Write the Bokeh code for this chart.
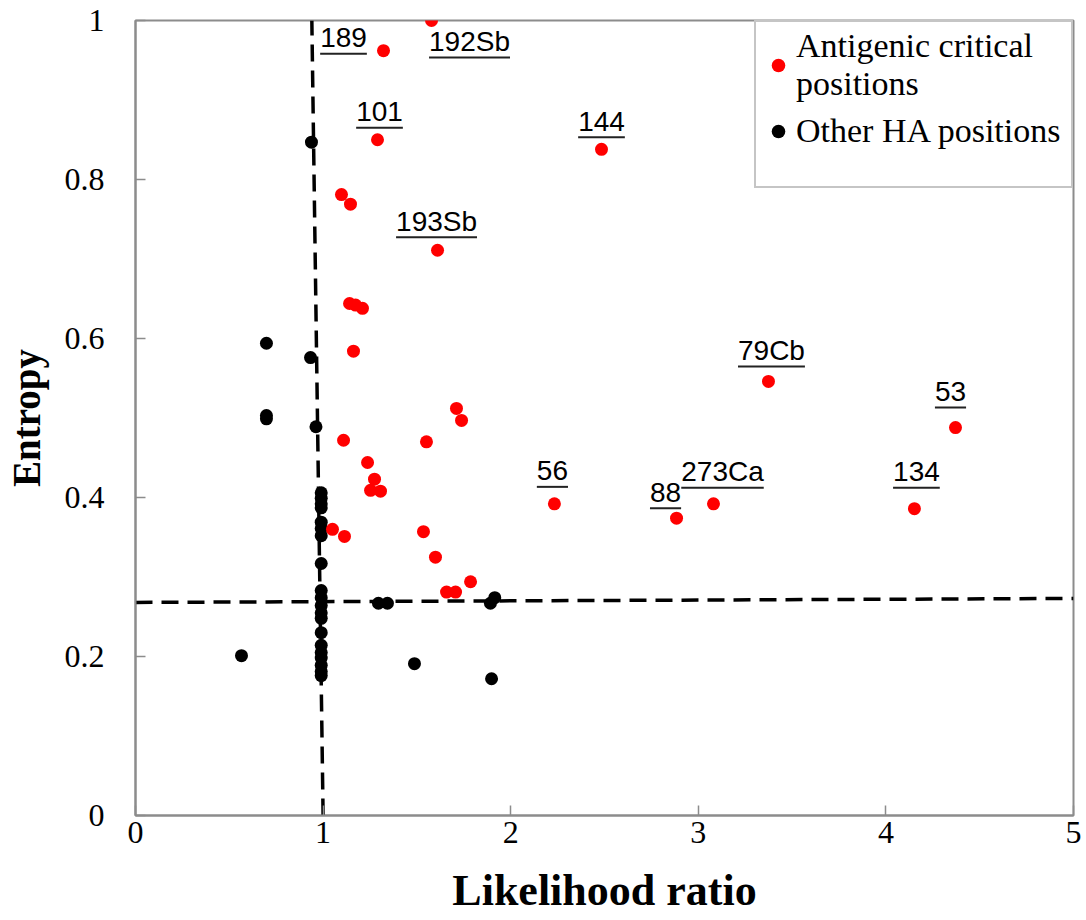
from bokeh.plotting import figure
from bokeh.models import Range1d, FixedTicker, Legend, LegendItem
from bokeh.core.properties import value
from bokeh.embed import file_html
from bokeh.resources import INLINE

# Antigenic critical positions: likelihood ratio vs entropy
crit_ratio = [1.578, 1.322, 1.290, 2.484, 1.098, 1.146, 1.610, 1.141, 1.173, 1.210,
              1.162, 3.374, 4.371, 1.711, 1.738, 1.109, 1.551, 1.237, 1.274, 1.253,
              1.306, 2.233, 3.081, 2.884, 4.152, 1.050, 1.114, 1.535, 1.599, 1.786,
              1.658, 1.706]
crit_entropy = [1.000, 0.962, 0.850, 0.838, 0.781, 0.769, 0.711, 0.644, 0.642, 0.638,
                0.584, 0.546, 0.488, 0.512, 0.497, 0.472, 0.470, 0.444, 0.423, 0.409,
                0.408, 0.392, 0.392, 0.374, 0.386, 0.360, 0.351, 0.357, 0.325, 0.294,
                0.281, 0.281]
crit_site = ["192Sb", "189", "101", "144", "", "", "193Sb", "", "", "",
             "", "79Cb", "53", "", "", "", "", "", "", "",
             "", "56", "273Ca", "88", "134", "", "", "", "", "",
             "", ""]

# Other HA positions
other_ratio = [0.938, 0.698, 0.933, 0.698, 0.698, 0.962,
               0.99, 0.99, 0.99, 0.99, 0.99, 0.99, 0.99, 0.99, 0.99, 0.99,
               0.99, 0.99, 0.99, 0.99, 0.99, 0.99, 0.99, 0.99, 0.99, 0.99,
               0.565, 1.295, 1.343, 1.487, 1.898, 1.892, 1.915]
other_entropy = [0.847, 0.594, 0.576, 0.503, 0.499, 0.489,
                 0.406, 0.399, 0.392, 0.387, 0.369, 0.361, 0.352, 0.317, 0.283, 0.274,
                 0.264, 0.255, 0.248, 0.230, 0.214, 0.205, 0.198, 0.189, 0.181, 0.176,
                 0.201, 0.267, 0.267, 0.191, 0.172, 0.267, 0.274]

# Threshold guides (end points)
ratio_guide_x = [1.0, 0.94]
ratio_guide_y = [0.0, 1.0]
entropy_guide_x = [0.0, 5.0]
entropy_guide_y = [0.268, 0.273]

x_ticks = [0, 1, 2, 3, 4, 5]
y_ticks = [0, 0.2, 0.4, 0.6, 0.8, 1]
y_tick_text = ["0", "0.2", "0.4", "0.6", "0.8", "1"]

FRAME_W, FRAME_H = 938, 795
X_MAX, Y_MAX = 5.0, 1.0
px_x = FRAME_W / X_MAX
px_y = FRAME_H / Y_MAX

GRAY = "#8c8c8c"
SERIF = "Liberation Serif"
SANS = "Liberation Sans"
LABEL_PX = 28

p = figure(frame_width=FRAME_W, frame_height=FRAME_H,
           min_border_left=135, min_border_right=13,
           min_border_top=20, min_border_bottom=105,
           x_range=Range1d(0, X_MAX), y_range=Range1d(0, Y_MAX),
           output_backend="svg", toolbar_location=None)

p.xgrid.visible = False
p.ygrid.visible = False
p.outline_line_color = GRAY
p.outline_line_width = 2

for ax in (p.xaxis[0], p.yaxis[0]):
    ax.axis_line_color = GRAY
    ax.axis_line_width = 2
    ax.major_tick_line_color = GRAY
    ax.major_tick_line_width = 1.5
    ax.major_tick_in = 10
    ax.major_tick_out = 0
    ax.minor_tick_line_color = None
    ax.major_label_text_font = SERIF
    ax.major_label_text_font_size = "32px"
    ax.major_label_text_color = "black"
    ax.axis_label_text_font = SERIF
    ax.axis_label_text_font_style = "bold"
    ax.axis_label_text_color = "black"

p.xaxis.ticker = FixedTicker(ticks=x_ticks)
p.yaxis.ticker = FixedTicker(ticks=y_ticks)
p.xaxis.major_label_overrides = {t: str(t) for t in x_ticks}
p.yaxis.major_label_overrides = dict(zip(y_ticks, y_tick_text))
p.xaxis.major_label_standoff = 6
p.yaxis.major_label_standoff = 31
p.xaxis.axis_label = "Likelihood ratio"
p.yaxis.axis_label = "Entropy"
p.xaxis.axis_label_text_font_size = "44px"
p.yaxis.axis_label_text_font_size = "39px"
p.xaxis.axis_label_standoff = 20
p.yaxis.axis_label_standoff = 14

# dashed threshold guides
p.line(ratio_guide_x, ratio_guide_y, line_color="black", line_width=3.5, line_dash="17 9")
p.line(entropy_guide_x, entropy_guide_y, line_color="black", line_width=3.5, line_dash="17 9")

other = p.scatter(other_ratio, other_entropy, size=13, fill_color="black",
                  line_color="black", line_width=0)
crit = p.scatter(crit_ratio, crit_entropy, size=13, fill_color="#ff0000",
                 line_color="#ff0000", line_width=0)

# site labels: offsets in screen pixels (dx right, dy baseline above point)
label_offsets = {
    "192Sb": (38, -32), "189": (-40, 2), "101": (2, 17), "144": (0, 17),
    "193Sb": (-1, 18), "79Cb": (3, 20), "53": (-5, 25), "56": (-2, 22),
    "273Ca": (9, 21), "88": (-11, 15), "134": (2, 26),
}
TEXT_LIFT = 11  # baseline correction for the SVG text anchor
char_em = {"S": 0.667, "b": 0.556, "C": 0.722, "a": 0.556}

tx, ty, tt, ux0, ux1, uy = [], [], [], [], [], []
for x, y, name in zip(crit_ratio, crit_entropy, crit_site):
    if not name:
        continue
    dx, dy = label_offsets[name]
    cx = x + dx / px_x
    by = y + dy / px_y
    tx.append(cx)
    ty.append(by + TEXT_LIFT / px_y)
    tt.append(name)
    w = sum(char_em.get(c, 0.556) for c in name) * LABEL_PX
    ux0.append(cx - w / 2 / px_x)
    ux1.append(cx + w / 2 / px_x)
    uy.append(by - 5 / px_y)

p.text(x=tx, y=ty, text=tt, text_font=value(SANS), text_font_size=f"{LABEL_PX}px",
       text_align="center", text_baseline="alphabetic", text_color="black")
p.segment(x0=ux0, y0=uy, x1=ux1, y1=uy, line_color="#222222", line_width=2)

legend = Legend(items=[
    LegendItem(label="Antigenic critical\npositions", renderers=[crit]),
    LegendItem(label="Other HA positions", renderers=[other]),
], location="top_right", margin=0, padding=5, spacing=9,
    glyph_width=34, glyph_height=34, label_standoff=1, label_width=270,
    label_text_font=SERIF, label_text_font_size="34px", label_text_line_height=1.05,
    label_text_color="black",
    title=" ", title_location="below", title_text_font_size="26px", title_standoff=0,
    border_line_color=GRAY, border_line_width=2, background_fill_color="white",
    background_fill_alpha=1.0)
p.add_layout(legend)

open("out.html", "w").write(file_html(p, INLINE))
